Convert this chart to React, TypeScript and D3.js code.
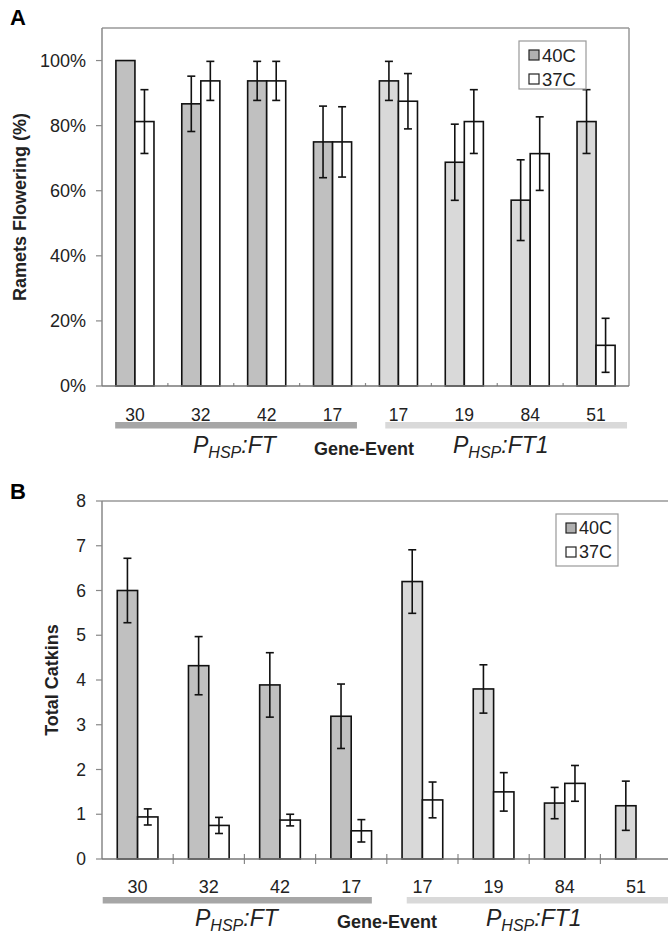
import React from "react";
import * as d3 from "d3";

// event numbers under each bar pair, and the construct they belong to
const events = ["30", "32", "42", "17", "17", "19", "84", "51"];
const genes = ["FT", "FT", "FT", "FT", "FT1", "FT1", "FT1", "FT1"];
const series = ["40C", "37C"];

// panel A: ramets flowering (%)
const flower40 = [100, 86.7, 93.75, 75, 93.75, 68.75, 57.1, 81.25];
const flower40Err = [0, 8.5, 6, 11, 6, 11.7, 12.4, 9.8];
const flower37 = [81.25, 93.75, 93.75, 75, 87.5, 81.25, 71.4, 12.5];
const flower37Err = [9.8, 6, 6, 10.8, 8.5, 9.8, 11.3, 8.3];

// panel B: total catkins
const catkins40 = [6.0, 4.32, 3.89, 3.19, 6.2, 3.8, 1.25, 1.19];
const catkins40Err = [0.72, 0.65, 0.72, 0.72, 0.71, 0.54, 0.35, 0.55];
const catkins37 = [0.94, 0.75, 0.87, 0.63, 1.32, 1.5, 1.69, 0];
const catkins37Err = [0.18, 0.18, 0.13, 0.25, 0.4, 0.43, 0.4, 0];

const pctTicks = [0, 0.2, 0.4, 0.6, 0.8, 1.0];
const catTicks = [0, 1, 2, 3, 4, 5, 6, 7, 8];

const FONT = "'Liberation Sans', Arial, Helvetica, sans-serif";
const fillFor = (gene, s) => (s === "37C" ? "#ffffff" : gene === "FT" ? "#c0c0c0" : "#d9d9d9");

const GeneLabel = ({ x, y, name, size, sub }) => (
  <text x={x} y={y} fontFamily={FONT} fontSize={size} fontStyle="italic" fill="#222">
    <tspan>P</tspan>
    <tspan fontSize={sub} dy={5}>HSP</tspan>
    <tspan dy={-5}>:{name}</tspan>
  </text>
);

const Panel = ({ cfg }) => {
  const { left, right, top, bottom, yMax, v40, e40, v37, e37, ticks, fmt } = cfg;
  const x = d3.scaleBand().domain(d3.range(events.length)).range([left, right]).padding(0);
  const bw = x.bandwidth();
  const inner = d3.scaleBand().domain(series).range([0, bw]).paddingInner(0).paddingOuter(cfg.outerPad);
  const y = d3.scaleLinear().domain([0, yMax]).range([bottom, top]);
  const vals = { "40C": v40, "37C": v37 };
  const errs = { "40C": e40, "37C": e37 };
  const bars = [];
  events.forEach((ev, i) => {
    series.forEach((s) => {
      const v = vals[s][i];
      const e = errs[s][i];
      const bx = x(i) + inner(s);
      const cx = bx + inner.bandwidth() / 2;
      if (v > 0) {
        bars.push(
          <rect key={`b${i}${s}`} x={bx} y={y(v)} width={inner.bandwidth()} height={y(0) - y(v)}
            fill={fillFor(genes[i], s)} stroke="#111" strokeWidth={1.6} />
        );
      }
      if (e > 0) {
        bars.push(
          <g key={`e${i}${s}`} stroke="#111" strokeWidth={1.6}>
            <line x1={cx} x2={cx} y1={y(v + e)} y2={y(v - e)} />
            <line x1={cx - 4} x2={cx + 4} y1={y(v + e)} y2={y(v + e)} />
            <line x1={cx - 4} x2={cx + 4} y1={y(v - e)} y2={y(v - e)} />
          </g>
        );
      }
    });
  });

  return (
    <g>
      <text x={10} y={cfg.letterY} fontFamily={FONT} fontWeight="bold" fontSize={22}>{cfg.letter}</text>
      {/* frame */}
      <line x1={left} x2={cfg.frameRight} y1={top} y2={top} stroke="#999" strokeWidth={1.5} />
      {cfg.boxed && <line x1={right} x2={right} y1={top} y2={bottom} stroke="#999" strokeWidth={1.5} />}
      <line x1={left} x2={left} y1={top} y2={bottom} stroke="#888" strokeWidth={1.5} />
      {ticks.map((t) => (
        <g key={`yt${t}`}>
          <line x1={left - 6} x2={left} y1={y(t)} y2={y(t)} stroke="#888" strokeWidth={1.2} />
          <text x={left - 16} y={y(t)} dy="0.35em" textAnchor="end" fontFamily={FONT}
            fontSize={cfg.tickSize} fill="#222">{fmt(t)}</text>
        </g>
      ))}
      <text transform={`translate(${cfg.yLabelX},${(top + bottom) / 2}) rotate(-90)`} textAnchor="middle"
        dominantBaseline="central" fontFamily={FONT} fontWeight="bold" fontSize={cfg.yLabelSize} fill="#222">
        {cfg.yLabel}
      </text>
      {d3.range(1, events.length).map((i) => (
        <line key={`xt${i}`} x1={x(i)} x2={x(i)} y1={bottom + cfg.xTickDown} y2={bottom - cfg.xTickUp}
          stroke="#888" strokeWidth={1.2} />
      ))}
      {bars}
      <line x1={left} x2={cfg.frameRight} y1={bottom} y2={bottom} stroke="#777" strokeWidth={1.5} />
      {/* legend */}
      <g transform={`translate(${cfg.legend[0]},${cfg.legend[1]})`}>
        <rect width={cfg.legend[2]} height={cfg.legend[3]} fill="#fff" stroke="#999" strokeWidth={1.2} />
        {series.map((s, k) => (
          <g key={s} transform={`translate(10,${14 + k * 24})`}>
            <rect x={0} y={-5} width={10} height={10} fill={s === "40C" ? "#b0b0b0" : "#fff"} stroke="#222" strokeWidth={1.2} />
            <text x={13} y={0} dy="0.36em" fontFamily={FONT} fontSize={cfg.legendSize} fill="#222">{s}</text>
          </g>
        ))}
      </g>
      {/* event labels and gene bands */}
      {events.map((ev, i) => (
        <text key={`xl${i}`} x={x(i) + bw / 2} y={cfg.evY} textAnchor="middle" fontFamily={FONT}
          fontSize={cfg.evSize} fill="#222">{ev}</text>
      ))}
      <rect x={x(0) + cfg.band1[0] * bw} y={cfg.bandY} width={(x(4) + cfg.band1[1] * bw) - (x(0) + cfg.band1[0] * bw)}
        height={6.5} fill="#a6a6a6" />
      <rect x={x(4) + cfg.band2[0] * bw} y={cfg.bandY} width={(left + 8 * bw + cfg.band2[1] * bw) - (x(4) + cfg.band2[0] * bw)}
        height={6.5} fill="#d9d9d9" />
      <GeneLabel x={cfg.geneX[0]} y={cfg.geneY} name="FT" size={23} sub={16} />
      <text x={cfg.geneX[1]} y={cfg.geneY + 2} fontFamily={FONT} fontWeight="bold" fontSize={18} fill="#222">Gene-Event</text>
      <GeneLabel x={cfg.geneX[2]} y={cfg.geneY} name="FT1" size={23} sub={16} />
    </g>
  );
};

const panelA = {
  letter: "A", letterY: 25, left: 102, right: 629, frameRight: 629, boxed: true,
  top: 28, bottom: 386, yMax: 1.1, outerPad: 0.73,
  v40: flower40.map((d) => d / 100), e40: flower40Err.map((d) => d / 100),
  v37: flower37.map((d) => d / 100), e37: flower37Err.map((d) => d / 100),
  ticks: pctTicks, fmt: d3.format(".0%"), tickSize: 18,
  yLabel: "Ramets Flowering (%)", yLabelX: 20, yLabelSize: 18,
  xTickUp: 3, xTickDown: 0,
  legend: [519, 41, 67, 48], legendSize: 18.5,
  evY: 421, evSize: 17.5, bandY: 422, band1: [0.2, -0.13], band2: [0.3, -0.03],
  geneX: [193, 314, 453], geneY: 453,
};

const panelB = {
  letter: "B", letterY: 499, left: 102, right: 671.6, frameRight: 668, boxed: false,
  top: 501, bottom: 859, yMax: 8, outerPad: 0.75,
  v40: catkins40, e40: catkins40Err, v37: catkins37, e37: catkins37Err,
  ticks: catTicks, fmt: d3.format("d"), tickSize: 17.5,
  yLabel: "Total Catkins", yLabelX: 52, yLabelSize: 18,
  xTickUp: 5, xTickDown: 5,
  legend: [556, 514, 62, 52], legendSize: 18,
  evY: 893, evSize: 18, bandY: 897, band1: [0.01, -0.21], band2: [0.28, 0.5],
  geneX: [195, 337, 486], geneY: 926,
};

export default function App() {
  return (
    <svg width={668} height={935} style={{ position: "absolute", left: 0, top: 0, background: "#fff" }}>
      <Panel cfg={panelA} />
      <Panel cfg={panelB} />
    </svg>
  );
}
